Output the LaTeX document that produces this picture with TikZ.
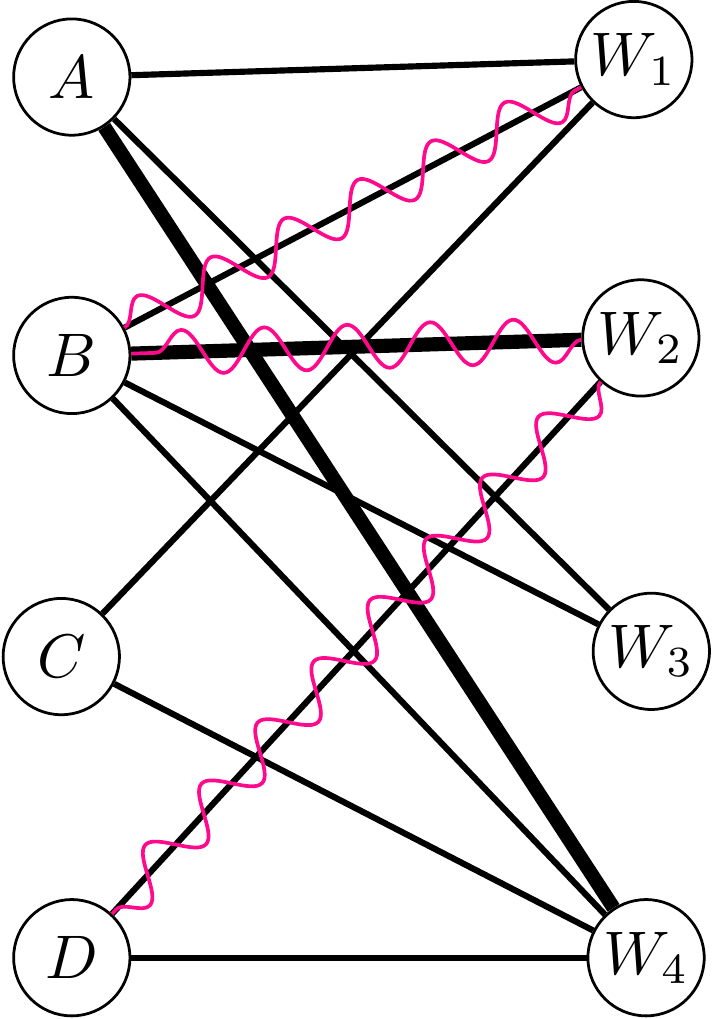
\documentclass[tikz,border=0pt]{standalone}
\usetikzlibrary{decorations.pathmorphing}
\definecolor{wavepink}{RGB}{255,10,140}
\begin{document}
\begin{tikzpicture}[every node/.style={draw,circle,line width=0.45pt,inner sep=0pt,minimum size=18.9pt},
edge/.style={line width=1pt},heavy/.style={line width=2.3pt},
wave/.style={wavepink,line width=0.6pt,decorate,decoration={snake,amplitude=3.6pt,segment length=13.5pt}}]
\useasboundingbox (0,0) rectangle (4.07,-5.82);
\node (a) at (0.41,-0.44) {$A$};
\node (b) at (0.41,-2.03) {$B$};
\node (c) at (0.35,-3.75) {$C$};
\node (d) at (0.41,-5.47) {$D$};
\node (w1) at (3.62,-0.34) {$W_1$};
\node (w2) at (3.66,-1.93) {$W_2$};
\node (w3) at (3.72,-3.72) {$W_3$};
\node (w4) at (3.69,-5.47) {$W_4$};
\draw[edge] (a)--(w1);\draw[edge] (a)--(w3);\draw[heavy] (a)--(w4);
\draw[edge] (b)--(w1);\draw[heavy] (b)--(w2);\draw[edge] (b)--(w3);\draw[edge] (b)--(w4);
\draw[edge] (c)--(w1);\draw[edge] (c)--(w4);
\draw[edge] (d)--(w2);\draw[edge] (d)--(w4);
\draw[wave] (b)--(w1);\draw[wave] (w2)--(b);\draw[wave] (w2)--(d);
\end{tikzpicture}
\end{document}
